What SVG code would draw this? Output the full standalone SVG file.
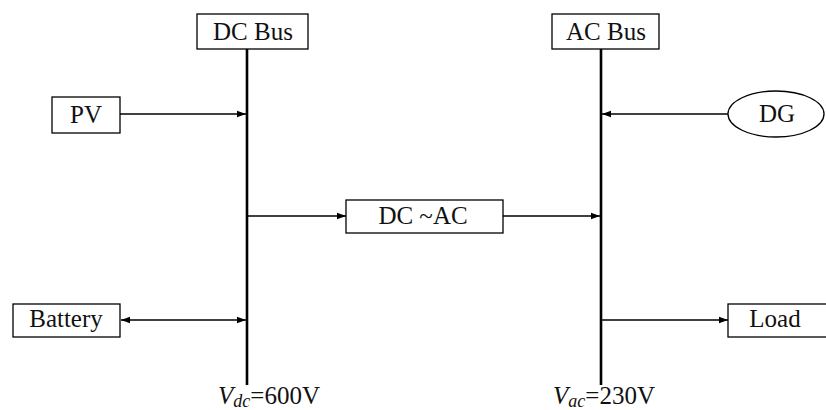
<svg xmlns="http://www.w3.org/2000/svg" width="826" height="410" viewBox="0 0 826 410">
<style>
.box{fill:#fff;stroke:#000;stroke-width:1.3}
.t{font-family:"Liberation Serif","Times New Roman",serif;font-size:25px;fill:#111;text-anchor:middle}
.v{font-family:"Liberation Serif","Times New Roman",serif;font-size:25px;fill:#111}
.bus{stroke:#000;stroke-width:2.6}
.ar{stroke:#000;stroke-width:1.5;fill:none}
</style>
<defs>
<marker id="ah" markerWidth="10" markerHeight="8" refX="9" refY="4" orient="auto-start-reverse" markerUnits="userSpaceOnUse">
<path d="M0,0.8 L9,4 L0,7.2 Z" fill="#000"/>
</marker>
</defs>
<rect width="826" height="410" fill="#fff"/>
<g id="connectors">
<line class="bus" x1="247" y1="49" x2="247" y2="385"/>
<line class="bus" x1="601" y1="49" x2="601" y2="385"/>
<line class="ar" x1="120" y1="114" x2="246" y2="114" marker-end="url(#ah)"/>
<line class="ar" x1="728" y1="114" x2="602" y2="114" marker-end="url(#ah)"/>
<line class="ar" x1="248" y1="216" x2="346" y2="216" marker-end="url(#ah)"/>
<line class="ar" x1="503" y1="216" x2="600" y2="216" marker-end="url(#ah)"/>
<line class="ar" x1="121" y1="320" x2="246" y2="320" marker-start="url(#ah)" marker-end="url(#ah)"/>
<line class="ar" x1="602" y1="320" x2="728" y2="320" marker-end="url(#ah)"/>
</g>
<g id="dcbus"><rect class="box" x="197" y="14" width="111" height="35"/><text class="t" x="253" y="40">DC Bus</text></g>
<g id="acbus"><rect class="box" x="552" y="14" width="107" height="35"/><text class="t" x="606" y="40">AC Bus</text></g>
<g id="pv"><rect class="box" x="52" y="97" width="68" height="36"/><text class="t" x="86" y="123">PV</text></g>
<g id="dg"><ellipse class="box" cx="776" cy="114" rx="48" ry="23"/><text class="t" x="777" y="122">DG</text></g>
<g id="converter"><rect class="box" x="346" y="200" width="157" height="33"/><text class="t" x="423" y="224">DC ~AC</text></g>
<g id="battery"><rect class="box" x="13" y="304" width="107" height="33"/><text class="t" x="66" y="327">Battery</text></g>
<g id="load"><rect class="box" x="728" y="304" width="100" height="33"/><text class="t" x="775" y="327">Load</text></g>
<g id="vdc"><text class="v" x="218" y="404"><tspan font-style="italic">V</tspan><tspan font-style="italic" font-size="18" dy="3">dc</tspan><tspan dy="-3">=600V</tspan></text></g>
<g id="vac"><text class="v" x="553" y="404"><tspan font-style="italic">V</tspan><tspan font-style="italic" font-size="18" dy="3">ac</tspan><tspan dy="-3">=230V</tspan></text></g>
</svg>
